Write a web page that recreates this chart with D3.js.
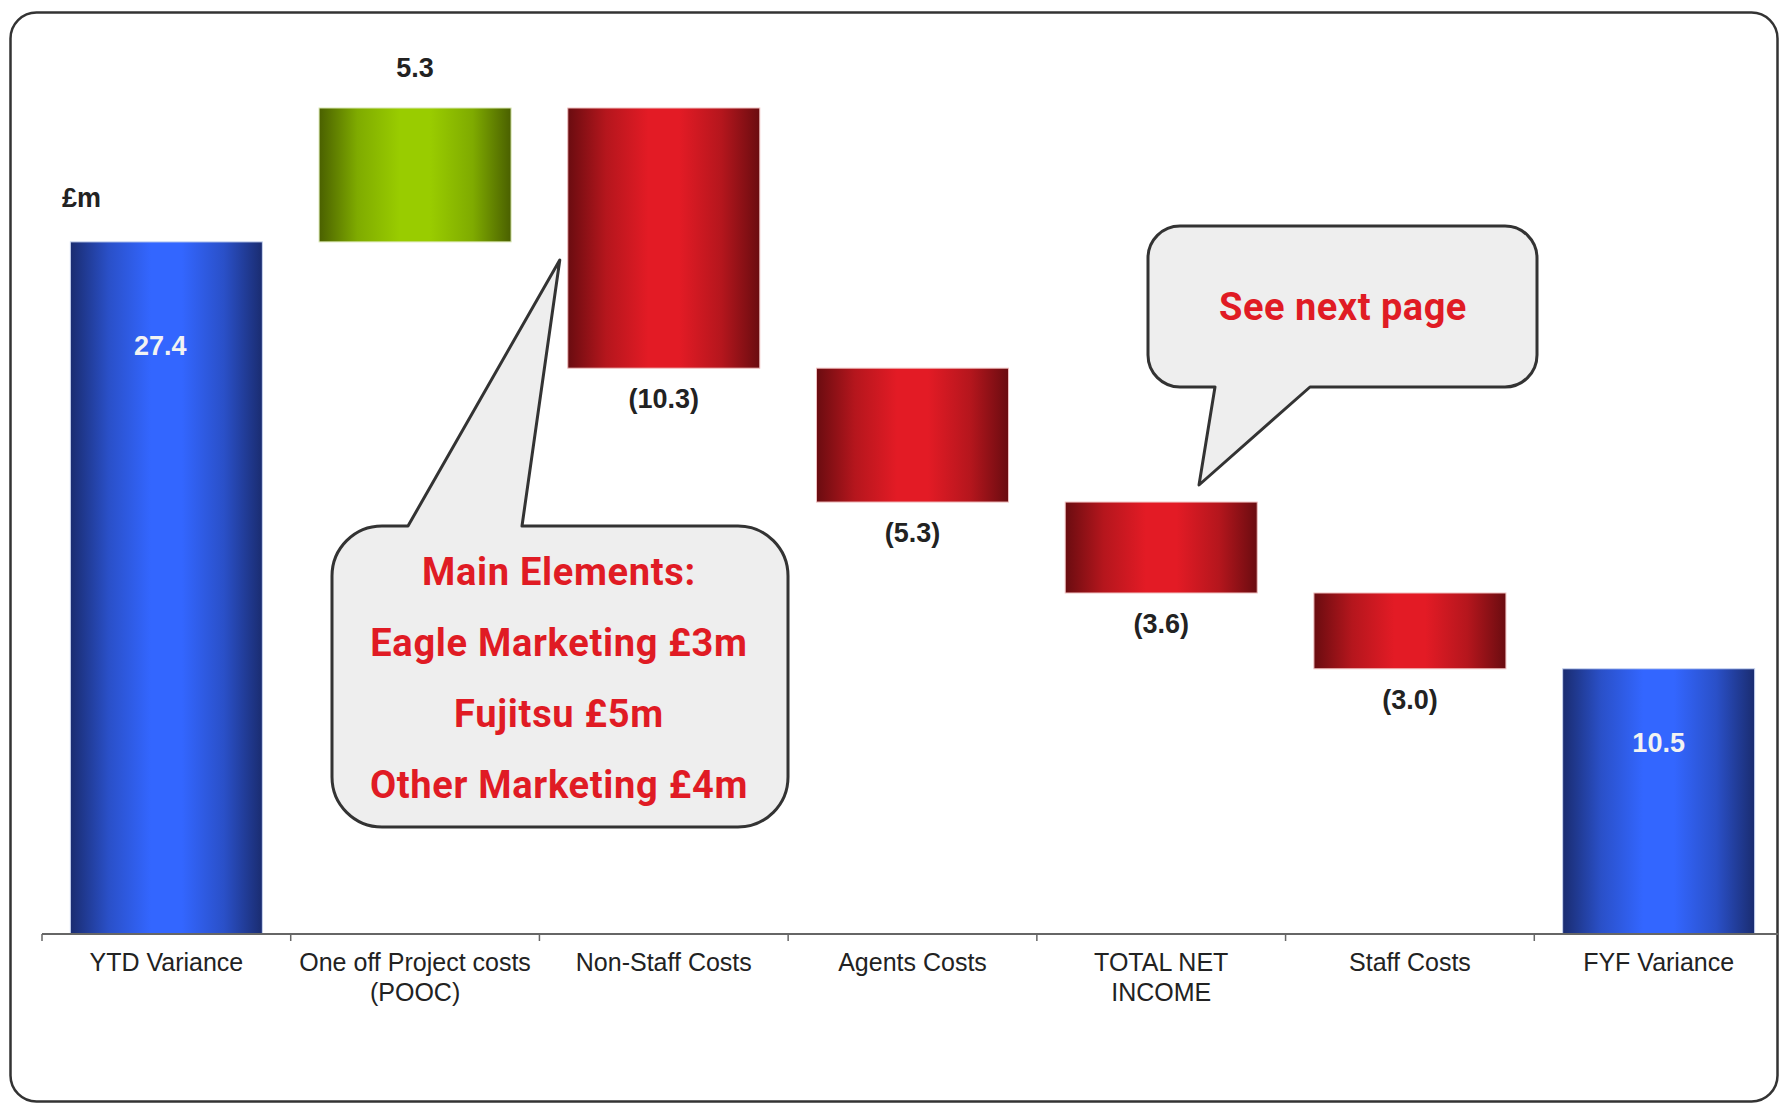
<!DOCTYPE html>
<html>
<head>
<meta charset="utf-8">
<script src="https://cdn.jsdelivr.net/npm/d3@7"></script>
<style>
  html, body { margin: 0; padding: 0; background: #ffffff; }
  svg { display: block; }
</style>
</head>
<body>
<svg id="chart" width="1779" height="1104"></svg>
<script>
// Bridge from YTD variance to full-year forecast variance, £m
const categories = [
  "YTD Variance",
  "One off Project costs\n(POOC)",
  "Non-Staff Costs",
  "Agents Costs",
  "TOTAL NET\nINCOME",
  "Staff Costs",
  "FYF Variance"
];
const values = [27.4, 5.3, -10.3, -5.3, -3.6, -3.0, 10.5];
const kinds = ["total", "step", "step", "step", "step", "step", "total"];
const unitLabel = "£m";

const noteMain = ["Main Elements:", "Eagle Marketing £3m", "Fujitsu £5m", "Other Marketing £4m"];
const noteNext = ["See next page"];

const W = 1779, H = 1104;
const svg = d3.select("#chart");

// Horizontal gradients giving the bars their rounded, lit look
const defs = svg.append("defs");
function barGradient(id, dark, mid, bright) {
  const g = defs.append("linearGradient").attr("id", id)
    .attr("x1", 0).attr("x2", 1).attr("y1", 0).attr("y2", 0);
  [[0, dark], [0.2, mid], [0.42, bright], [0.58, bright], [0.8, mid], [1, dark]]
    .forEach(([o, c]) => g.append("stop").attr("offset", o).attr("stop-color", c));
}
barGradient("gBlue", "#1a2c70", "#2a50c8", "#3366ff");
barGradient("gRed", "#6a0c10", "#b5161d", "#e31b25");
barGradient("gGreen", "#4a6000", "#7fab00", "#99cc00");

// Outer frame
svg.append("rect")
  .attr("x", 10.5).attr("y", 12.5).attr("width", 1767).attr("height", 1089)
  .attr("rx", 26).attr("ry", 26)
  .attr("fill", "#ffffff").attr("stroke", "#333333").attr("stroke-width", 2.5);

// Scales
const axisY = 934;
const x = d3.scaleBand().domain(categories).range([42, 1783])
  .paddingInner(0.228).paddingOuter(0.114);
const y = d3.scaleLinear().domain([0, 35]).range([axisY, axisY - 35 * 25.26]);

// Running totals for the waterfall
let running = 0;
const bars = categories.map((c, i) => {
  const v = values[i];
  let lo, hi;
  if (kinds[i] === "total") {
    lo = 0; hi = v; running = v;
  } else {
    const start = running;
    running = start + v;
    lo = Math.min(start, running); hi = Math.max(start, running);
  }
  return { cat: c, v, kind: kinds[i], lo, hi };
});

const fillFor = d => d.kind === "total" ? "url(#gBlue)" : (d.v >= 0 ? "url(#gGreen)" : "url(#gRed)");
const edgeFor = d => d.kind === "total" ? "#c8d4f0" : (d.v >= 0 ? "#d8e6b0" : "#f0c0c0");

svg.append("g").selectAll("rect").data(bars).join("rect")
  .attr("x", d => x(d.cat))
  .attr("width", x.bandwidth())
  .attr("y", d => y(d.hi))
  .attr("height", d => y(d.lo) - y(d.hi))
  .attr("fill", d => fillFor(d))
  .attr("stroke", d => edgeFor(d)).attr("stroke-width", 1);

// Value labels
const fmt = d3.format(".1f");
const labelText = d => d.v < 0 ? "(" + fmt(-d.v) + ")" : fmt(d.v);
svg.append("g").selectAll("text").data(bars).join("text")
  .attr("x", d => x(d.cat) + x.bandwidth() / 2 + (d.kind === "total" && d.v > 20 ? -6 : 0))
  .attr("y", d => {
    if (d.kind === "total") {
      const h = y(d.lo) - y(d.hi);
      return y(d.hi) + 55 + 0.07 * h + 10;
    }
    return d.v >= 0 ? y(d.hi) - 31 : y(d.lo) + 40;
  })
  .attr("text-anchor", "middle")
  .attr("font-family", "'Liberation Sans', Arial, sans-serif")
  .attr("font-weight", "bold")
  .attr("font-size", 27)
  .attr("fill", d => d.kind === "total" ? "#f2f2f2" : "#222222")
  .text(labelText);

// Unit label
svg.append("text")
  .attr("x", 62).attr("y", 207)
  .attr("font-family", "'Liberation Sans', Arial, sans-serif")
  .attr("font-weight", "bold").attr("font-size", 27).attr("fill", "#222")
  .text(unitLabel);

// Category axis
const axisG = svg.append("g").attr("transform", `translate(0,${axisY})`)
  .call(d3.axisBottom(x).tickSize(0).tickPadding(0));
axisG.select(".domain").remove();
axisG.append("line")
  .attr("x1", 42).attr("x2", W).attr("y1", 0).attr("y2", 0)
  .attr("stroke", "#666").attr("stroke-width", 2);
axisG.selectAll(".boundary").data(d3.range(categories.length + 1)).join("line")
  .attr("class", "boundary")
  .attr("x1", i => 42 + i * x.step()).attr("x2", i => 42 + i * x.step())
  .attr("y1", 0).attr("y2", 7)
  .attr("stroke", "#666").attr("stroke-width", 1.5);
axisG.selectAll(".tick text").each(function (d) {
  const t = d3.select(this).text(null)
    .attr("y", 0).attr("dy", null)
    .attr("font-family", "'Liberation Sans', Arial, sans-serif")
    .attr("font-size", 25).attr("fill", "#222");
  d.split("\n").forEach((line, k) => {
    t.append("tspan").attr("x", 0).attr("y", 37 + k * 30).text(line);
  });
});

// Speech-bubble callouts
function bubble(left, top, right, bottom, r, tail) {
  // tail: {edge: "top"|"bottom", a, b, tip:[x,y]}
  const p = d3.path();
  p.moveTo(left + r, top);
  if (tail.edge === "top") {
    p.lineTo(tail.a, top); p.lineTo(tail.tip[0], tail.tip[1]); p.lineTo(tail.b, top);
  }
  p.lineTo(right - r, top);
  p.arcTo(right, top, right, top + r, r);
  p.lineTo(right, bottom - r);
  p.arcTo(right, bottom, right - r, bottom, r);
  if (tail.edge === "bottom") {
    p.lineTo(tail.b, bottom); p.lineTo(tail.tip[0], tail.tip[1]); p.lineTo(tail.a, bottom);
  }
  p.lineTo(left + r, bottom);
  p.arcTo(left, bottom, left, bottom - r, r);
  p.lineTo(left, top + r);
  p.arcTo(left, top, left + r, top, r);
  p.closePath();
  return p.toString();
}

const noteFont = "Roboto, 'Open Sans', sans-serif";
const noteColor = "#e01b24";

// Non-Staff Costs breakdown
const nsLeft = x("Non-Staff Costs");
svg.append("path")
  .attr("d", bubble(332, 526, 788, 827, 50,
    { edge: "top", a: 408, b: 522, tip: [nsLeft - 8, 260] }))
  .attr("fill", "#eeeeee").attr("stroke", "#333").attr("stroke-width", 3)
  .attr("stroke-linejoin", "round");
svg.append("g").selectAll("text").data(noteMain).join("text")
  .attr("x", 559).attr("y", (d, i) => 585 + i * 71)
  .attr("text-anchor", "middle")
  .attr("font-family", noteFont).attr("font-weight", 700).attr("font-size", 38)
  .attr("letter-spacing", 0.7)
  .attr("fill", noteColor)
  .text(d => d);

// Pointer to TOTAL NET INCOME
svg.append("path")
  .attr("d", bubble(1148, 226, 1537, 387, 32,
    { edge: "bottom", a: 1215, b: 1310, tip: [1199, 485] }))
  .attr("fill", "#eeeeee").attr("stroke", "#333").attr("stroke-width", 3)
  .attr("stroke-linejoin", "round");
svg.append("g").selectAll("text").data(noteNext).join("text")
  .attr("x", 1343).attr("y", 320)
  .attr("text-anchor", "middle")
  .attr("font-family", noteFont).attr("font-weight", 700).attr("font-size", 38)
  .attr("letter-spacing", 0.5)
  .attr("fill", noteColor)
  .text(d => d);
</script>
</body>
</html>
